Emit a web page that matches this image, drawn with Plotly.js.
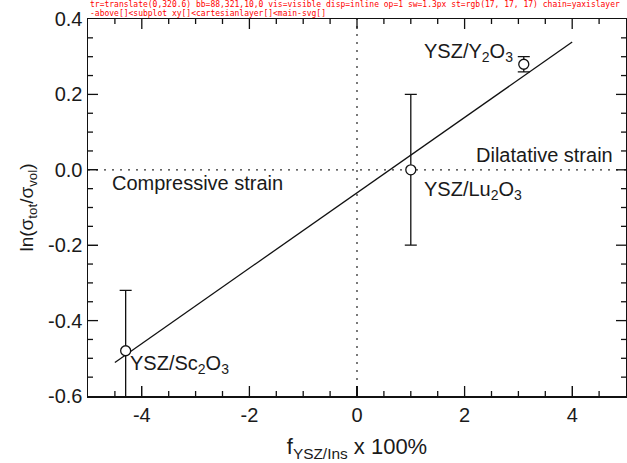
<!DOCTYPE html>
<html>
<head>
<meta charset="utf-8">
<script src="https://cdn.plot.ly/plotly-3.0.1.min.js"></script>
<style>html,body{margin:0;padding:0;background:#fff}#chart{width:627px;height:463px}#dbg{position:absolute;left:90px;top:0;width:530px;font:8px monospace;color:red;word-break:break-all}</style>
</head>
<body>
<div id="chart"></div>
<div id="dbg"></div>
<script>
// Data
const sampleNames = ["YSZ/Sc<sub>2</sub>O<sub>3</sub>", "YSZ/Lu<sub>2</sub>O<sub>3</sub>", "YSZ/Y<sub>2</sub>O<sub>3</sub>"];
const misfitX = [-4.3, 1.0, 3.1];
const lnRatio = [-0.48, 0.0, 0.28];
const lnRatioErr = [0.16, 0.2, 0.02];
const fitX = [-4.5, 4.0];
const fitY = [-0.511, 0.339];
const xTickVals = [-4, -2, 0, 2, 4];
const xTickText = ["-4", "-2", "0", "2", "4"];
const yTickVals = [-0.6, -0.4, -0.2, 0.0, 0.2, 0.4];
const yTickText = ["-0.6", "-0.4", "-0.2", "0.0", "0.2", "0.4"];
const xRange = [-5, 5];
const yRange = [-0.6, 0.4];
const xMinorStep = 0.5;
const yMinorStep = 0.05;

const W = 627, H = 463, M = {l: 88, r: 1, t: 19, b: 67};
const fam = "Liberation Sans, Arial, sans-serif";
const ink = "#1a1a1a";
function f(size) { return {family: fam, size: size, color: ink}; }

// Tick marks as one line trace, lengths converted from pixels through the axis scale
const xPerPx = (xRange[1] - xRange[0]) / (W - M.l - M.r);
const yPerPx = (yRange[1] - yRange[0]) / (H - M.t - M.b);
const tickX = [], tickY = [];
function isMajor(v, majors) { return majors.some(m => Math.abs(m - v) < 1e-9); }
for (let i = 1; xRange[0] + i * xMinorStep < xRange[1] - 1e-9; i++) {
  const v = xRange[0] + i * xMinorStep;
  const len = (isMajor(v, xTickVals) ? 10 : 5) * yPerPx;
  tickX.push(v, v, null, v, v, null);
  tickY.push(yRange[0], yRange[0] + len, null, yRange[1], yRange[1] - len, null);
}
for (let i = 1; yRange[0] + i * yMinorStep < yRange[1] - 1e-9; i++) {
  const v = yRange[0] + i * yMinorStep;
  const len = (isMajor(v, yTickVals) ? 10 : 5) * xPerPx;
  tickX.push(xRange[0], xRange[0] + len, null, xRange[1], xRange[1] - len, null);
  tickY.push(v, v, null, v, v, null);
}

const traces = [
  {x: xRange, y: [0, 0], mode: "lines", line: {color: "#333", width: 1.3, dash: "2px,6px"}, hoverinfo: "skip", showlegend: false},
  {x: [0, 0], y: yRange, mode: "lines", line: {color: "#333", width: 1.3, dash: "2px,6px"}, hoverinfo: "skip", showlegend: false},
  {x: tickX, y: tickY, mode: "lines", connectgaps: false, line: {color: "#111", width: 1.3}, hoverinfo: "skip", showlegend: false},
  {x: fitX, y: fitY, mode: "lines", line: {color: "#111", width: 1.3}, showlegend: false},
  {x: misfitX, y: lnRatio, mode: "markers",
   error_y: {type: "data", array: lnRatioErr, visible: true, color: "#111", thickness: 1.3, width: 6},
   marker: {symbol: "circle", size: 10, color: "#fff", line: {color: "#111", width: 1.3}},
   showlegend: false}
];

const annotations = [
  {x: -4.6, y: -0.035, xref: "x", yref: "y", text: "Compressive strain", showarrow: false, xanchor: "left", yanchor: "middle", font: f(20)},
  {x: 4.8, y: 0.04, xref: "x", yref: "y", text: "Dilatative strain", showarrow: false, xanchor: "right", yanchor: "middle", font: f(20)},
  {x: 1.2, y: 0.312, xref: "x", yref: "y", text: sampleNames[2], showarrow: false, xanchor: "left", yanchor: "middle", font: f(20)},
  {x: 1.2, y: -0.054, xref: "x", yref: "y", text: sampleNames[1], showarrow: false, xanchor: "left", yanchor: "middle", font: f(20)},
  {x: -4.26, y: -0.517, xref: "x", yref: "y", text: sampleNames[0], showarrow: false, xanchor: "left", yanchor: "middle", font: f(20)}
];

function axis(extra) {
  return Object.assign({
    showgrid: false, zeroline: false, showline: true, linecolor: "#111", linewidth: 1.5,
    mirror: true, ticks: "inside", ticklen: 10, tickwidth: 1.3, tickcolor: "#111", tickfont: f(20)
  }, extra);
}

const layout = {
  width: W, height: H,
  margin: M,
  font: f(18),
  xaxis: axis({
    range: xRange, tickmode: "array", tickvals: xTickVals, ticktext: xTickText,
    title: {text: "f<sub>YSZ/Ins</sub> x 100%", font: f(22), standoff: 14}
  }),
  yaxis: axis({
    range: yRange, tickmode: "array", tickvals: yTickVals, ticktext: yTickText,
    title: {text: "ln(σ<sub>tot</sub>/σ<sub>vol</sub>)", font: f(19), standoff: 9}
  }),
  annotations: annotations,
  showlegend: false
};

Plotly.newPlot("chart", traces, layout, {displayModeBar: false, staticPlot: true}).then(function(){
  const d = document.getElementById('dbg');
  const t = document.querySelector('path.ytick');
  let s = '';
  if (t) {
    const r = t.getBoundingClientRect();
    const cs = getComputedStyle(t);
    s += 'tr=' + t.getAttribute('transform') + ' bb=' + [r.x, r.y, r.width, r.height].map(Math.round).join(',') +
      ' vis=' + cs.visibility + ' disp=' + cs.display + ' op=' + cs.opacity + ' sw=' + cs.strokeWidth + ' st=' + cs.stroke;
    let p = t.parentNode, chain = [];
    for (let k = 0; k < 4 && p; k++) { chain.push((p.getAttribute && p.getAttribute('class')) + '[' + (p.getAttribute && (p.getAttribute('clip-path') || p.getAttribute('transform') || '')) + ']'); p = p.parentNode; }
    s += ' chain=' + chain.join('<');
  } else s += 'no ytick';
  d.textContent = s;
});
</script>
</body>
</html>
